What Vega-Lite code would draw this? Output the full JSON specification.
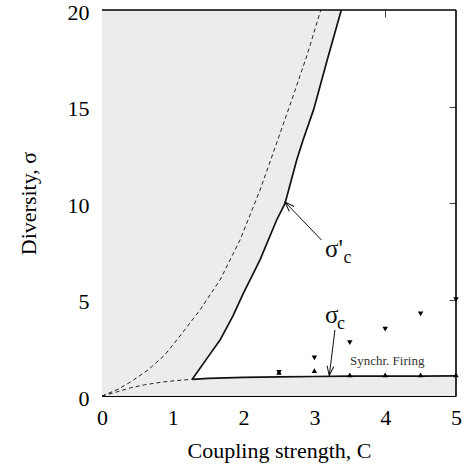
{
  "$schema": "https://vega.github.io/schema/vega-lite/v6.json",
  "width": 354,
  "height": 386,
  "autosize": "none",
  "padding": {"left": 102, "top": 10, "right": 11, "bottom": 71},
  "config": {
    "view": {"stroke": null},
    "axis": {
      "grid": false,
      "labelFont": "Liberation Serif",
      "labelFontSize": 22,
      "labelColor": "black",
      "titleFont": "Liberation Serif",
      "titleFontSize": 22,
      "titleFontWeight": "normal",
      "titleColor": "black",
      "domainColor": "black",
      "domainWidth": 1,
      "labelFlush": false,
      "zindex": 1
    }
  },
  "datasets": {
    "bandA": [
      {"C": 0, "s": 0}, {"C": 0.2, "s": 0.2}, {"C": 0.4, "s": 0.42}, {"C": 0.6, "s": 0.58},
      {"C": 0.85, "s": 0.72}, {"C": 1.05, "s": 0.8}, {"C": 1.275, "s": 0.865}, {"C": 1.5, "s": 0.91},
      {"C": 2, "s": 0.96}, {"C": 2.5, "s": 0.99}, {"C": 3, "s": 1.01}, {"C": 3.5, "s": 1.025},
      {"C": 4, "s": 1.03}, {"C": 4.5, "s": 1.035}, {"C": 5, "s": 1.04}
    ],
    "regB": [
      {"C": 0, "s": 0}, {"C": 0.2, "s": 0.2}, {"C": 0.4, "s": 0.42}, {"C": 0.6, "s": 0.58},
      {"C": 0.85, "s": 0.72}, {"C": 1.05, "s": 0.8}, {"C": 1.275, "s": 0.865}, {"C": 1.5, "s": 2.04},
      {"C": 1.667, "s": 2.9}, {"C": 1.85, "s": 4.15}, {"C": 1.996, "s": 5.32}, {"C": 2.232, "s": 7.05},
      {"C": 2.467, "s": 9.12}, {"C": 2.585, "s": 9.98}, {"C": 2.75, "s": 12.23}, {"C": 2.84, "s": 13.26},
      {"C": 2.99, "s": 14.85}, {"C": 3.18, "s": 17.4}, {"C": 3.38, "s": 20}
    ],
    "dashU": [
      {"C": 0, "s": 0}, {"C": 0.226, "s": 0.35}, {"C": 0.41, "s": 0.74}, {"C": 0.65, "s": 1.35},
      {"C": 0.885, "s": 2.12}, {"C": 1.078, "s": 3.0}, {"C": 1.384, "s": 4.46}, {"C": 1.667, "s": 6.01},
      {"C": 1.949, "s": 8.08}, {"C": 2.232, "s": 10.67}, {"C": 2.476, "s": 13.2}, {"C": 2.68, "s": 15.34},
      {"C": 2.9, "s": 17.7}, {"C": 3.09, "s": 20}
    ],
    "dashL": [
      {"C": 0, "s": 0}, {"C": 0.2, "s": 0.2}, {"C": 0.4, "s": 0.42}, {"C": 0.6, "s": 0.58},
      {"C": 0.85, "s": 0.72}, {"C": 1.05, "s": 0.8}, {"C": 1.275, "s": 0.865}
    ],
    "solidP": [
      {"C": 1.275, "s": 0.865}, {"C": 1.5, "s": 2.04}, {"C": 1.667, "s": 2.9}, {"C": 1.85, "s": 4.15},
      {"C": 1.996, "s": 5.32}, {"C": 2.232, "s": 7.05}, {"C": 2.467, "s": 9.12}, {"C": 2.585, "s": 9.98},
      {"C": 2.75, "s": 12.23}, {"C": 2.84, "s": 13.26}, {"C": 2.99, "s": 14.85}, {"C": 3.18, "s": 17.4},
      {"C": 3.38, "s": 20}
    ],
    "solidC": [
      {"C": 1.275, "s": 0.865}, {"C": 1.5, "s": 0.91}, {"C": 2, "s": 0.96}, {"C": 2.5, "s": 0.99},
      {"C": 3, "s": 1.01}, {"C": 3.5, "s": 1.025}, {"C": 4, "s": 1.03}, {"C": 4.5, "s": 1.035},
      {"C": 5, "s": 1.04}
    ],
    "tri": [
      {"C": 2.5, "s": 1.23, "dir": "up"}, {"C": 3, "s": 1.31, "dir": "up"}, {"C": 3.5, "s": 1.09, "dir": "up"},
      {"C": 4, "s": 1.09, "dir": "up"}, {"C": 4.5, "s": 1.09, "dir": "up"}, {"C": 5, "s": 1.09, "dir": "up"},
      {"C": 2.5, "s": 1.23, "dir": "down"}, {"C": 3, "s": 1.98, "dir": "down"}, {"C": 3.5, "s": 2.76, "dir": "down"},
      {"C": 4, "s": 3.47, "dir": "down"}, {"C": 4.5, "s": 4.25, "dir": "down"}, {"C": 5, "s": 5.0, "dir": "down"}
    ],
    "sigma": [
      {"C": 3.15, "s": 7.2, "t": "σ'"}, {"C": 3.15, "s": 3.77, "t": "σ"}
    ],
    "sub": [
      {"C": 3.41, "s": 6.89, "t": "c"}, {"C": 3.32, "s": 3.47, "t": "c"}
    ],
    "note": [
      {"C": 3.503, "s": 1.61, "t": "Synchr. Firing"}
    ],
    "arrows": [
      {"C": 3.10, "s": 8.08, "C2": 2.585, "s2": 10.05},
      {"C": 3.29, "s": 3.42, "C2": 3.21, "s2": 1.06}
    ],
    "head1": [{"C": 2.585, "s": 10.05}],
    "head2": [{"C": 3.21, "s": 1.06}],
    "frameR": [{"C": 5, "s": 0, "s2": 20}],
    "frameT": [{"C": 0, "C2": 5, "s": 20}]
  },
  "layer": [
    {
      "data": {"name": "bandA"},
      "mark": {"type": "area", "fill": "#ececec", "stroke": null},
      "encoding": {
        "x": {"field": "C", "type": "quantitative", "scale": {"domain": [0, 5], "nice": false, "zero": false},
          "axis": {"orient": "bottom", "title": "Coupling strength, C", "values": [0, 1, 2, 3, 4, 5], "format": "d", "ticks": false, "labelPadding": 11, "titlePadding": 12}},
        "y": {"field": "s", "type": "quantitative", "scale": {"domain": [0, 20], "nice": false, "zero": false},
          "axis": {"orient": "left", "title": "Diversity, σ", "values": [0, 5, 10, 15, 20], "format": "d", "ticks": false, "labelPadding": 13, "labelOffset": 2, "titlePadding": 27}},
        "y2": {"datum": 0}
      }
    },
    {
      "data": {"name": "regB"},
      "mark": {"type": "area", "fill": "#ececec", "stroke": null},
      "encoding": {
        "x": {"field": "C", "type": "quantitative", "axis": null},
        "y": {"field": "s", "type": "quantitative", "axis": null},
        "y2": {"datum": 20}
      }
    },
    {
      "data": {"name": "dashU"},
      "mark": {"type": "line", "stroke": "#222", "strokeWidth": 1, "strokeDash": [4, 3]},
      "encoding": {
        "x": {"field": "C", "type": "quantitative", "axis": null},
        "y": {"field": "s", "type": "quantitative", "axis": null}
      }
    },
    {
      "data": {"name": "dashL"},
      "mark": {"type": "line", "stroke": "#222", "strokeWidth": 1, "strokeDash": [4, 3]},
      "encoding": {
        "x": {"field": "C", "type": "quantitative", "axis": null},
        "y": {"field": "s", "type": "quantitative", "axis": null}
      }
    },
    {
      "data": {"name": "solidP"},
      "mark": {"type": "line", "stroke": "#111", "strokeWidth": 1.7},
      "encoding": {
        "x": {"field": "C", "type": "quantitative", "axis": null},
        "y": {"field": "s", "type": "quantitative", "axis": null}
      }
    },
    {
      "data": {"name": "solidC"},
      "mark": {"type": "line", "stroke": "#111", "strokeWidth": 1.7},
      "encoding": {
        "x": {"field": "C", "type": "quantitative",
          "axis": {"orient": "top", "title": null, "values": [4], "labels": false, "ticks": true, "tickSize": 7, "offset": -7, "tickColor": "#444", "domain": false}},
        "y": {"field": "s", "type": "quantitative",
          "axis": {"orient": "right", "title": null, "values": [5, 10, 15], "labels": false, "ticks": true, "tickSize": 7, "offset": -7, "tickColor": "#444", "domain": false}}
      }
    },
    {
      "data": {"name": "frameR"},
      "mark": {"type": "rule", "stroke": "#000", "strokeWidth": 1.6},
      "encoding": {
        "x": {"field": "C", "type": "quantitative", "axis": null},
        "y": {"field": "s", "type": "quantitative", "axis": null},
        "y2": {"field": "s2"}
      }
    },
    {
      "data": {"name": "frameT"},
      "mark": {"type": "rule", "stroke": "#000", "strokeWidth": 1.6},
      "encoding": {
        "x": {"field": "C", "type": "quantitative", "axis": null},
        "x2": {"field": "C2"},
        "y": {"field": "s", "type": "quantitative", "axis": null}
      }
    },
    {
      "data": {"name": "tri"},
      "mark": {"type": "point", "filled": true, "color": "black", "opacity": 1, "size": 30},
      "encoding": {
        "x": {"field": "C", "type": "quantitative", "axis": null},
        "y": {"field": "s", "type": "quantitative", "axis": null},
        "shape": {"field": "dir", "type": "nominal", "legend": null,
          "scale": {"domain": ["up", "down"], "range": ["triangle-up", "triangle-down"]}}
      }
    },
    {
      "data": {"name": "arrows"},
      "mark": {"type": "rule", "stroke": "#111", "strokeWidth": 1},
      "encoding": {
        "x": {"field": "C", "type": "quantitative", "axis": null},
        "y": {"field": "s", "type": "quantitative", "axis": null},
        "x2": {"field": "C2"},
        "y2": {"field": "s2"}
      }
    },
    {
      "data": {"name": "head1"},
      "mark": {"type": "point", "shape": "M-0.36,1L0,0L0.36,1", "filled": false, "stroke": "#111", "strokeWidth": 1, "opacity": 1, "size": 360, "angle": 316},
      "encoding": {
        "x": {"field": "C", "type": "quantitative", "axis": null},
        "y": {"field": "s", "type": "quantitative", "axis": null}
      }
    },
    {
      "data": {"name": "head2"},
      "mark": {"type": "point", "shape": "M-0.36,1L0,0L0.36,1", "filled": false, "stroke": "#111", "strokeWidth": 1, "opacity": 1, "size": 360, "angle": 187},
      "encoding": {
        "x": {"field": "C", "type": "quantitative", "axis": null},
        "y": {"field": "s", "type": "quantitative", "axis": null}
      }
    },
    {
      "data": {"name": "sigma"},
      "mark": {"type": "text", "font": "Liberation Serif", "fontSize": 25, "align": "left", "baseline": "alphabetic", "color": "#111"},
      "encoding": {
        "x": {"field": "C", "type": "quantitative", "axis": null},
        "y": {"field": "s", "type": "quantitative", "axis": null},
        "text": {"field": "t"}
      }
    },
    {
      "data": {"name": "sub"},
      "mark": {"type": "text", "font": "Liberation Serif", "fontSize": 18, "align": "left", "baseline": "alphabetic", "color": "#111"},
      "encoding": {
        "x": {"field": "C", "type": "quantitative", "axis": null},
        "y": {"field": "s", "type": "quantitative", "axis": null},
        "text": {"field": "t"}
      }
    },
    {
      "data": {"name": "note"},
      "mark": {"type": "text", "font": "Liberation Serif", "fontSize": 13, "align": "left", "baseline": "alphabetic", "color": "#333"},
      "encoding": {
        "x": {"field": "C", "type": "quantitative", "axis": null},
        "y": {"field": "s", "type": "quantitative", "axis": null},
        "text": {"field": "t"}
      }
    }
  ],
  "resolve": {"axis": {"x": "independent", "y": "independent"}}
}
